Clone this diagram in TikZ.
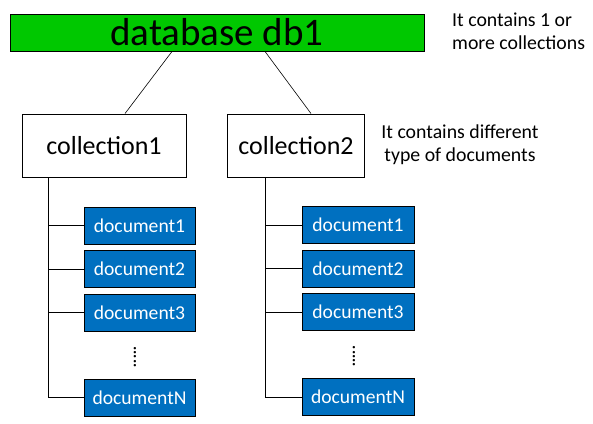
\documentclass[tikz,border=0pt]{standalone}
\usepackage{fontspec}
\setmainfont{Carlito}
\usetikzlibrary{positioning,calc}

\definecolor{dbgreen}{HTML}{00C800}
\definecolor{docblue}{HTML}{0070C0}

\begin{document}
\begin{tikzpicture}[
    x=1pt, y=-1pt,
    dbbox/.style={draw=black, line width=0.9pt, fill=dbgreen,
                  minimum width=414pt, minimum height=37pt, inner sep=0pt,
                  font=\fontsize{39}{41}\selectfont},
    collbox/.style={draw=black, line width=0.9pt, fill=white,
                    minimum height=63pt, inner sep=0pt,
                    font=\fontsize{26}{28}\selectfont},
    docbox/.style={draw=black, line width=0.9pt, fill=docblue, text=white,
                   minimum width=111pt, minimum height=37pt, inner sep=0pt,
                   font=\fontsize{19.6}{21}\selectfont},
    note/.style={inner sep=0pt, font=\fontsize{19.8}{23}\selectfont},
    gap/.style={inner sep=0pt, rotate=-90, font=\fontsize{16}{16}\selectfont\bfseries},
    link/.style={draw=black, line width=0.6pt},
    branch/.style={draw=black, line width=0.9pt}
]
\useasboundingbox (0,0) rectangle (593,423);

\node[dbbox] (db) at (217,32.5) {database db1};
\node[note, align=left, anchor=west] (dbnote) at (452,31) {It contains 1 or\\more collections};

\node[collbox, minimum width=164pt] (coll1) at (104,145.5) {collection1};
\node[collbox, minimum width=137.5pt] (coll2) at (296,145.5) {collection2};
\node[note, align=center] (collnote) at (460,145) {It contains different\\type of documents};

% documents of collection1
\node[docbox] (c1doc1) at (139.5,225.5) {document1};
\node[docbox] (c1doc2) at (139.5,269) {document2};
\node[docbox] (c1doc3) at (139.5,312.5) {document3};
\node[gap] (c1gap) at (135,357) {.....};
\node[docbox] (c1docN) at (139.5,397.5) {documentN};

% documents of collection2
\node[docbox, minimum width=112pt] (c2doc1) at (358,225) {document1};
\node[docbox, minimum width=112pt] (c2doc2) at (358,268.5) {document2};
\node[docbox, minimum width=112pt] (c2doc3) at (358,312) {document3};
\node[gap] (c2gap) at (354,356.5) {.....};
\node[docbox, minimum width=112pt] (c2docN) at (358,397) {documentN};

\draw[link] ([xshift=-45pt]db.south) -- ([xshift=21pt]coll1.north);
\draw[link] ([xshift=48pt]db.south) -- ([xshift=15pt]coll2.north);

\coordinate (c1top) at ([xshift=-56pt]coll1.south);
\coordinate (c2top) at ([xshift=-31pt]coll2.south);

\draw[branch] (c1top) |- (c1docN.west);
\draw[branch] (c1top |- c1doc1.west) -- (c1doc1.west);
\draw[branch] (c1top |- c1doc2.west) -- (c1doc2.west);
\draw[branch] (c1top |- c1doc3.west) -- (c1doc3.west);

\draw[branch] (c2top) |- (c2docN.west);
\draw[branch] (c2top |- c2doc1.west) -- (c2doc1.west);
\draw[branch] (c2top |- c2doc2.west) -- (c2doc2.west);
\draw[branch] (c2top |- c2doc3.west) -- (c2doc3.west);

\end{tikzpicture}
\end{document}
